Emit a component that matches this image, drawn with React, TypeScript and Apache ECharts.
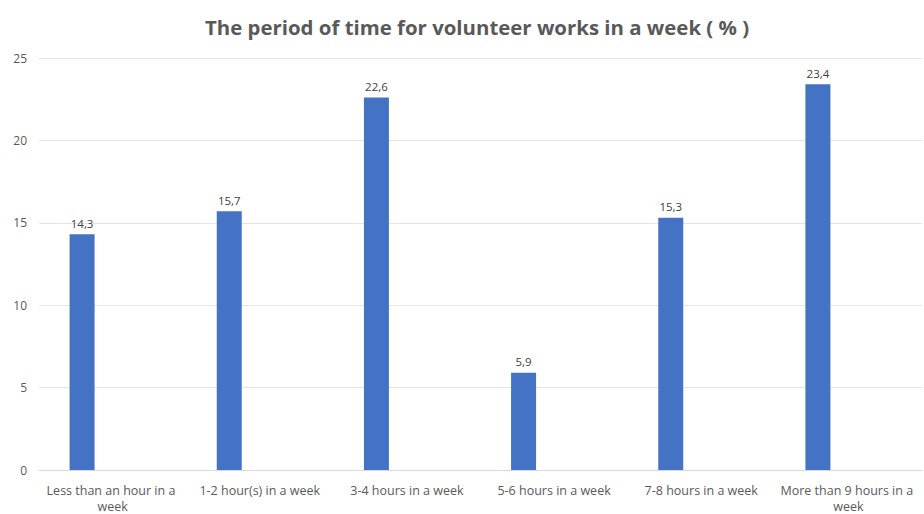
import React, { useEffect, useRef } from "react";
import * as echarts from "echarts";

const titleText = "The period of time for volunteer works in a week ( % )";
const categories = [
  "Less than an hour in a week",
  "1-2 hour(s) in a week",
  "3-4 hours in a week",
  "5-6 hours in a week",
  "7-8 hours in a week",
  "More than 9 hours in a week",
];
const shares = [14.3, 15.7, 22.6, 5.9, 15.3, 23.4];
const yTicks = { min: 0, max: 25, interval: 5 };

const FONT = "'Open Sans', Lato, sans-serif";

export default function App() {
  const ref = useRef<HTMLDivElement>(null);

  useEffect(() => {
    if (!ref.current) return;
    const chart = echarts.init(ref.current, undefined, { renderer: "svg" });
    chart.setOption({
      animation: false,
      backgroundColor: "#ffffff",
      textStyle: { fontFamily: FONT },
      title: {
        text: titleText,
        left: 200,
        top: 12,
        textStyle: {
          fontFamily: FONT,
          fontSize: 20.4,
          fontWeight: "bold",
          color: "#595959",
        },
      },
      grid: { left: 39, top: 58, width: 888, height: 414, containLabel: false },
      xAxis: {
        type: "category",
        data: categories,
        axisLine: { lineStyle: { color: "#d9d9d9" } },
        axisTick: { show: false },
        axisLabel: {
          interval: 0,
          color: "#595959",
          fontSize: 12.5,
          fontFamily: FONT,
          margin: 12,
          width: 146,
          overflow: "break",
          lineHeight: 16,
        },
      },
      yAxis: {
        type: "value",
        min: yTicks.min,
        max: yTicks.max,
        interval: yTicks.interval,
        axisLine: { show: false },
        axisTick: { show: false },
        splitLine: { lineStyle: { color: "#e4e4e4", width: 1 } },
        axisLabel: {
          color: "#595959",
          fontSize: 12,
          fontFamily: FONT,
          margin: 12,
        },
      },
      series: [
        {
          name: "Share",
          type: "bar",
          data: shares,
          barWidth: 25,
          barGap: "144%",
          itemStyle: { color: "#4472C4" },
          label: {
            show: true,
            position: "top",
            distance: 5,
            color: "#404040",
            fontSize: 11.5,
            fontFamily: FONT,
            formatter: (p: any) => String(p.value).replace(".", ","),
          },
        },
        {
          name: "spacer",
          type: "bar",
          data: categories.map(() => null),
          barWidth: 25,
          itemStyle: { color: "transparent" },
        },
      ],
    });
    return () => chart.dispose();
  }, []);

  return (
    <div
      ref={ref}
      style={{ position: "fixed", left: 0, top: 0, width: 924, height: 514 }}
    />
  );
}
